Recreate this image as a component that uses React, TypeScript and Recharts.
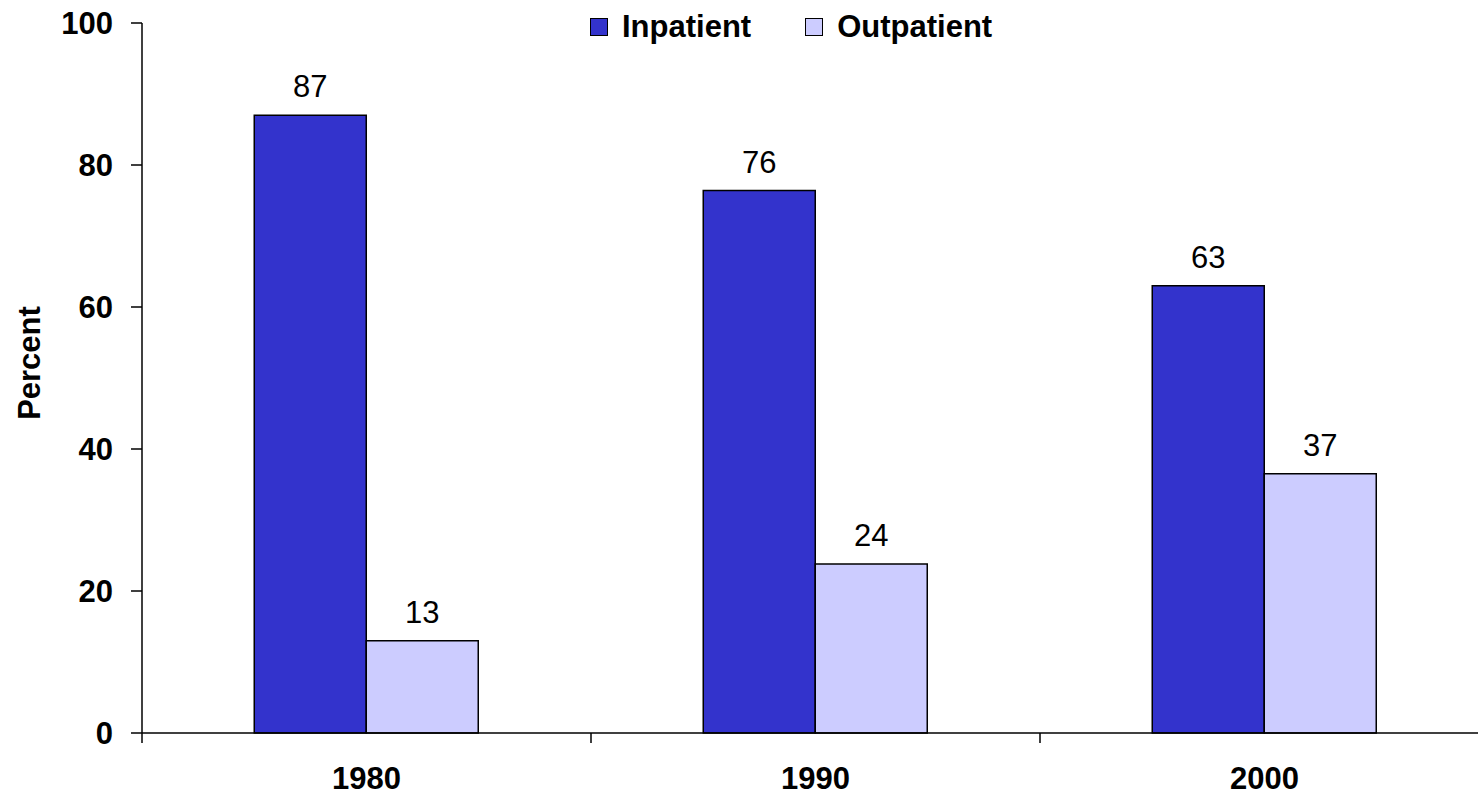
import { BarChart, Bar, XAxis, YAxis, Legend, LabelList } from 'recharts';

const years = ['1980', '1990', '2000'];
const inpatient = [87.0, 76.4, 63.0];
const outpatient = [13.0, 23.8, 36.5];
const percentTicks = [0, 20, 40, 60, 80, 100];

const data = years.map((year, i) => ({
    year,
    inpatient: inpatient[i],
    outpatient: outpatient[i]
}));

const FONT = '"Liberation Sans", Arial, sans-serif';
const FS = 31;

// label in the middle of the band, tick line on the left edge of the band
const YearTick = (props: any) => {
    const { x, y, payload } = props;
    const off = payload.offset ?? 0;
    return (
        <g>
            <line x1={x - off} y1={y - 10} x2={x - off} y2={y} stroke="#000" strokeWidth={1.5} />
            <text x={x} y={y + 46} textAnchor="middle" fontWeight="bold" fontSize={FS} fill="#000">
                {payload.value}
            </text>
        </g>
    );
};

const PercentLabel = ({ viewBox }: any) => {
    const cx = viewBox.x + 40;
    const cy = viewBox.y + viewBox.height / 2 - 15;
    return (
        <text
            x={cx}
            y={cy}
            textAnchor="middle"
            fontWeight="bold"
            fontSize={FS}
            fill="#000"
            transform={`rotate(-90, ${cx}, ${cy})`}
        >
            Percent
        </text>
    );
};

const LegendBox = ({ payload }: any) => (
    <div style={{ display: 'flex', alignItems: 'center', fontFamily: FONT }}>
        {(payload || []).map((p: any, i: number) => (
            <div
                key={p.value}
                style={{ display: 'flex', alignItems: 'center', marginLeft: i === 0 ? 0 : 54 }}
            >
                <span
                    style={{
                        width: 16,
                        height: 16,
                        background: p.color,
                        border: '1px solid #000',
                        display: 'inline-block',
                        marginRight: 14
                    }}
                />
                <span style={{ fontSize: FS, fontWeight: 'bold', lineHeight: '30px', color: '#000' }}>
                    {p.value}
                </span>
            </div>
        ))}
    </div>
);

export default function App() {
    return (
        <div
            style={{
                position: 'absolute',
                left: 0,
                top: 0,
                width: 1478,
                height: 795,
                overflow: 'hidden',
                background: '#fff',
                fontFamily: FONT
            }}
        >
            <BarChart
                width={1489}
                height={795}
                data={data}
                margin={{ top: 23, right: 0, left: 0, bottom: 0 }}
                barCategoryGap="25%"
                barGap={0}
            >
                <XAxis
                    dataKey="year"
                    height={62}
                    axisLine={{ stroke: '#000', strokeWidth: 1.5 }}
                    tickLine={false}
                    tickSize={10}
                    tickMargin={0}
                    tick={<YearTick />}
                />
                <YAxis
                    width={142}
                    domain={[0, 100]}
                    ticks={percentTicks}
                    interval={0}
                    axisLine={{ stroke: '#000', strokeWidth: 1.5 }}
                    tickLine={{ stroke: '#000', strokeWidth: 1.5 }}
                    tickSize={11}
                    tickMargin={18}
                    tick={{ fill: '#000', fontSize: FS, fontWeight: 'bold' }}
                    label={<PercentLabel />}
                />
                <Legend
                    layout="horizontal"
                    verticalAlign="middle"
                    align="center"
                    content={<LegendBox />}
                    wrapperStyle={{ top: 12, left: 590, width: 'auto', height: 'auto' }}
                />
                <Bar
                    dataKey="inpatient"
                    name="Inpatient"
                    fill="#3333CC"
                    stroke="#000"
                    strokeWidth={1.5}
                    isAnimationActive={false}
                >
                    <LabelList
                        dataKey="inpatient"
                        position="top"
                        offset={18}
                        formatter={(v: any) => Math.round(v)}
                        style={{ fill: '#000', fontSize: FS }}
                    />
                </Bar>
                <Bar
                    dataKey="outpatient"
                    name="Outpatient"
                    fill="#CCCCFF"
                    stroke="#000"
                    strokeWidth={1.5}
                    isAnimationActive={false}
                >
                    <LabelList
                        dataKey="outpatient"
                        position="top"
                        offset={18}
                        formatter={(v: any) => Math.round(v)}
                        style={{ fill: '#000', fontSize: FS }}
                    />
                </Bar>
            </BarChart>
        </div>
    );
}
